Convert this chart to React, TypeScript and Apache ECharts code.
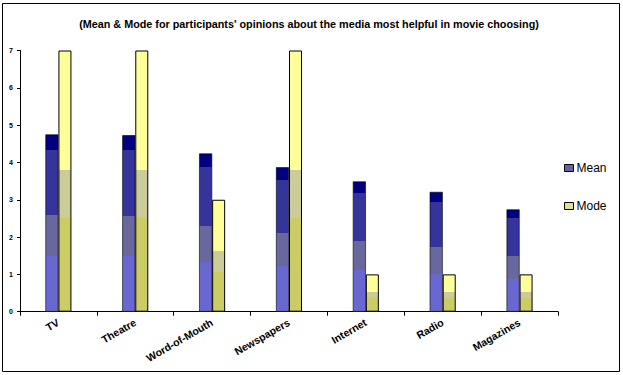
import React, { useEffect, useRef } from "react";
import * as echarts from "echarts";

const categories = ["TV", "Theatre", "Word-of-Mouth", "Newspapers", "Internet", "Radio", "Magazines"];
const meanValues = [4.75, 4.73, 4.24, 3.87, 3.49, 3.21, 2.74];
const modeValues = [7, 7, 3, 7, 1, 1, 1];
const titleText = "(Mean & Mode for participants' opinions about the media most helpful in movie choosing)";

function bands(stops: [number, string][]) {
  const cs: { offset: number; color: string }[] = [];
  let prev = 0;
  stops.forEach(([end, color]) => {
    cs.push({ offset: prev, color });
    cs.push({ offset: end, color });
    prev = end;
  });
  return new echarts.graphic.LinearGradient(0, 1, 0, 0, cs);
}

export default function App() {
  const ref = useRef<HTMLDivElement>(null);
  useEffect(() => {
    if (!ref.current) return;
    const chart = echarts.init(ref.current, undefined, { renderer: "svg" });
    const meanFill = bands([
      [0.316, "#6868d0"],
      [0.543, "#68689e"],
      [0.915, "#34349a"],
      [1, "#000080"],
    ]);
    const modeFill = bands([
      [0.357, "#cccc66"],
      [0.542, "#cccc99"],
      [1, "#ffff99"],
    ]);
    chart.setOption({
      animation: false,
      textStyle: { fontFamily: "Liberation Sans, Arial, sans-serif" },
      title: {
        text: titleText,
        left: 304,
        top: 13,
        textAlign: "center",
        textStyle: { fontSize: 10.8, fontWeight: "bold", color: "#000", fontFamily: "Liberation Sans, Arial, sans-serif" },
      },
      graphic: [
        {
          type: "rect",
          shape: { x: 2.5, y: 3.5, width: 617, height: 368 },
          style: { fill: "none", stroke: "#000", lineWidth: 1 },
          silent: true,
        },
      ],
      legend: {
        orient: "vertical",
        left: 559,
        top: 157,
        itemWidth: 9,
        itemHeight: 7,
        itemGap: 26,
        textStyle: { fontSize: 12, color: "#000", padding: [0, 0, 0, -2] },
        data: [
          { name: "Mean", icon: "rect", itemStyle: { color: "#6262b0", borderColor: "#000", borderWidth: 1 } },
          { name: "Mode", icon: "rect", itemStyle: { color: "#e0e090", borderColor: "#000", borderWidth: 1 } },
        ],
      },
      grid: { left: 20, right: 65, top: 50.5, bottom: 63.3, containLabel: false },
      xAxis: {
        type: "category",
        data: categories,
        axisLine: { lineStyle: { color: "#000", width: 1 } },
        axisTick: { show: true, length: 4, lineStyle: { color: "#000" } },
        axisLabel: { rotate: 30, fontSize: 10.5, fontWeight: "bold", color: "#000", margin: 10, interval: 0 },
      },
      yAxis: {
        type: "value",
        min: 0,
        max: 7,
        interval: 1,
        splitLine: { show: false },
        axisLine: { show: true, lineStyle: { color: "#000", width: 1 } },
        axisTick: { show: true, length: 3, lineStyle: { color: "#000" } },
        axisLabel: { fontSize: 7, fontWeight: "bold", color: "#000", margin: 7 },
      },
      series: [
        {
          name: "Mean",
          type: "bar",
          data: meanValues,
          barWidth: 13,
          barGap: "0%",
          itemStyle: { color: meanFill, borderColor: "#000", borderWidth: 0.6 },
        },
        {
          name: "Mode",
          type: "bar",
          data: modeValues,
          barWidth: 13,
          itemStyle: { color: modeFill, borderColor: "#000", borderWidth: 1 },
        },
      ],
    });
    return () => chart.dispose();
  }, []);
  return <div ref={ref} style={{ position: "fixed", left: 0, top: 0, width: 623, height: 375, background: "#fff" }} />;
}
